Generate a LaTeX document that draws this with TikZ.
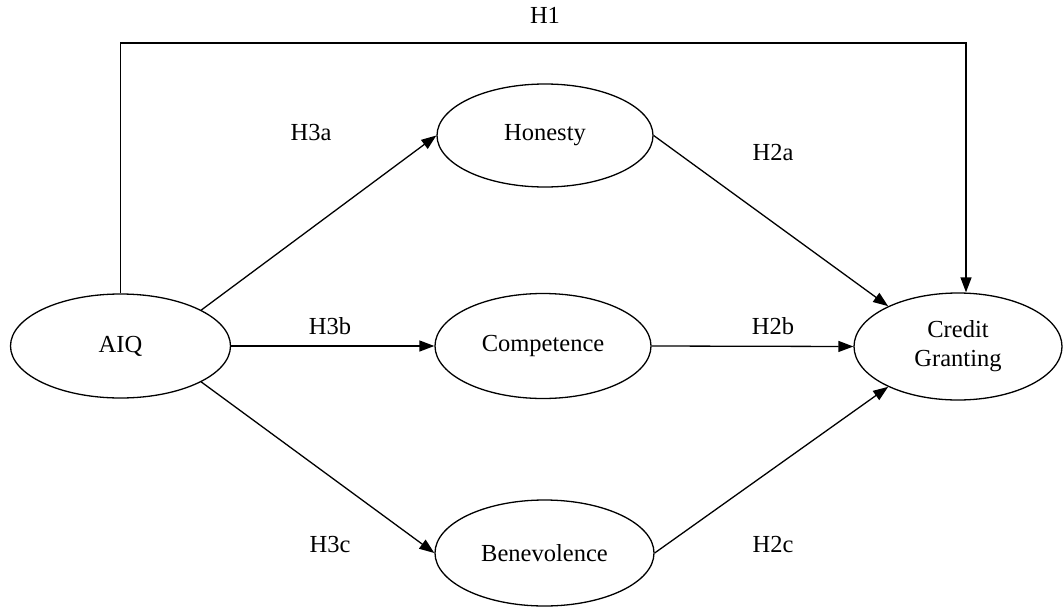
\documentclass[tikz,border=0pt]{standalone}
\usepackage{fontspec}
\setmainfont{Liberation Serif}
\usetikzlibrary{shapes.geometric,arrows.meta}
\begin{document}
\begin{tikzpicture}[x=1pt,y=-1pt,
  construct/.style={draw,ellipse,line width=1.3pt,inner sep=0pt,font=\fontsize{24.5}{29}\selectfont,align=center},
  lbl/.style={font=\fontsize{24.5}{29}\selectfont,inner sep=0pt},
  path/.style={line width=1.3pt,-{Triangle[length=15pt,width=11pt]}}]
\useasboundingbox (0,0) rectangle (1064,610);
\node[construct,minimum width=220pt,minimum height=104pt] (aiq) at (120.5,346) {AIQ};
\node[construct,minimum width=216pt,minimum height=103pt] (hon) at (545,135.5) {Honesty};
\node[construct,minimum width=216pt,minimum height=105pt] (com) at (543,346) {Competence};
\node[construct,minimum width=219pt,minimum height=106pt] (ben) at (544.5,553) {Benevolence};
\node[construct,minimum width=208pt,minimum height=107pt] (cg) at (958,346.5) {Credit\\Granting};
\coordinate (c1) at (aiq.north |- 0,43);
\coordinate (c2) at (966,43);
\draw[path] (aiq.north) -- (c1) -- (c2) -- (c2 |- cg.north);
\node[lbl] (h1) at (545,15) {H1};
\draw[path] (aiq.24) -- (hon.west);
\draw[path] (aiq.east) -- (com.west);
\draw[path] (aiq.-24) -- (ben.west);
\draw[path] (hon.east) -- (cg.150);
\draw[path] (com.east) -- (cg.west);
\draw[path] (ben.east) -- (cg.210);
\node[lbl] (h3a) at (311,133) {H3a};
\node[lbl] (h3b) at (330,326) {H3b};
\node[lbl] (h3c) at (330,545) {H3c};
\node[lbl] (h2a) at (773,153) {H2a};
\node[lbl] (h2b) at (773,326) {H2b};
\node[lbl] (h2c) at (773,545) {H2c};
\end{tikzpicture}
\end{document}
